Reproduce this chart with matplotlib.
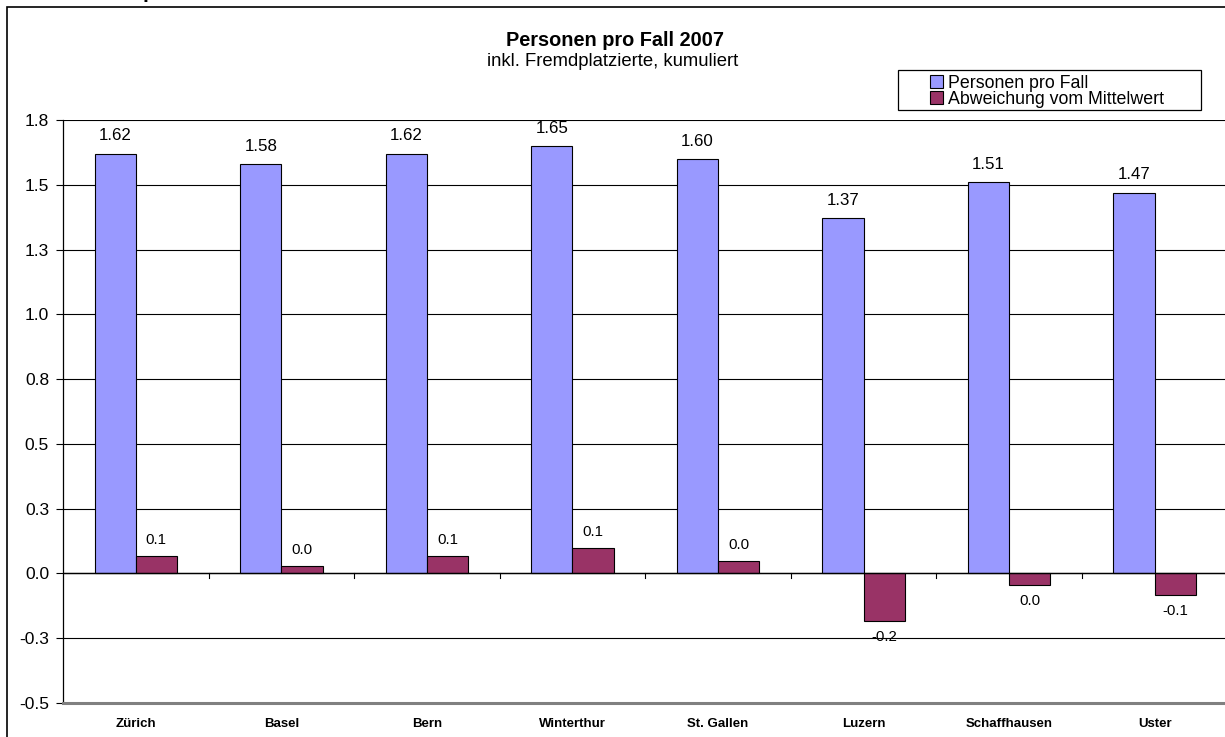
import matplotlib
matplotlib.use("Agg")
import matplotlib.pyplot as plt
from matplotlib.patches import Rectangle
import numpy as np

plt.rcParams['font.family'] = ['Liberation Sans', 'DejaVu Sans']

categories = ["Zürich", "Basel", "Bern", "Winterthur", "St. Gallen", "Luzern", "Schaffhausen", "Uster"]
personen = [1.62, 1.58, 1.62, 1.65, 1.60, 1.37, 1.51, 1.47]
abweichung = [0.067, 0.027, 0.067, 0.097, 0.047, -0.183, -0.043, -0.083]
yticks = [-0.5, -0.25, 0.0, 0.25, 0.5, 0.75, 1.0, 1.25, 1.5, 1.75]
ytick_labels = ["-0.5", "-0.3", "0.0", "0.3", "0.5", "0.8", "1.0", "1.3", "1.5", "1.8"]
series_names = ["Personen pro Fall", "Abweichung vom Mittelwert"]

W, H = 1225, 737
fig = plt.figure(figsize=(W / 100, H / 100), dpi=100)

def fx(px):
    return px / W

def fy(py):
    return 1 - py / H

# outer chart border
fig.patches.append(Rectangle((fx(7), -0.01), 1.02, fy(7) + 0.01, transform=fig.transFigure,
                             fill=False, edgecolor='black', linewidth=1.2))
# cut-off heading fragment above the chart
fig.text(fx(143), fy(-1.5), "p", ha='left', va='baseline', fontsize=15, fontweight='bold')

ax = fig.add_axes([fx(63), fy(703), (W - 63) / W + 0.002, (703 - 120) / H])
x = np.arange(len(categories))
bw = 0.283
ax.bar(x - bw / 2, personen, bw, color='#9999FF', edgecolor='black', linewidth=0.8,
       label=series_names[0], zorder=3)
ax.bar(x + bw / 2, abweichung, bw, color='#993366', edgecolor='black', linewidth=0.8,
       label=series_names[1], zorder=3)

ax.set_xlim(-0.5, len(categories) - 0.5)
ax.set_ylim(-0.5, 1.75)
ax.set_yticks(yticks)
ax.set_yticklabels(ytick_labels, fontsize=12.5)
for yv in yticks[1:]:
    ax.axhline(yv, color='black', linewidth=0.8, zorder=1)
ax.axhline(0, color='black', linewidth=1.0, zorder=4)

ax.set_xticks(x)
ax.set_xticklabels(categories, fontsize=9.5, fontweight='bold')
ax.tick_params(axis='x', length=0, pad=11)
ax.tick_params(axis='y', length=5, width=0.8, pad=5)
for b in np.arange(0.5, len(categories) - 0.5, 1.0):
    ax.plot([b, b], [0, -0.016], color='black', linewidth=0.8, zorder=4)

for s in ['top', 'right']:
    ax.spines[s].set_visible(False)
ax.spines['left'].set_linewidth(0.9)
ax.spines['bottom'].set_color('#808080')
ax.spines['bottom'].set_linewidth(2.2)

for xi, v in zip(x, personen):
    ax.text(xi - bw / 2, v + 0.04, f"{v:.2f}", ha='center', va='bottom', fontsize=12.2)
for xi, v in zip(x, abweichung):
    s = f"{v:.1f}"
    if s == "-0.0":
        s = "0.0"
    if v >= 0:
        ax.text(xi + bw / 2, v + 0.035, s, ha='center', va='bottom', fontsize=10.8)
    else:
        ax.text(xi + bw / 2, v - 0.035, s, ha='center', va='top', fontsize=10.8)

fig.text(fx(615), fy(40), "Personen pro Fall 2007", ha='center', va='center',
         fontsize=14.3, fontweight='bold')
fig.text(fx(613), fy(61), "inkl. Fremdplatzierte, kumuliert", ha='center', va='center',
         fontsize=13.3)

# legend
fig.patches.append(Rectangle((fx(898), fy(110)), fx(1201) - fx(898), fy(70) - fy(110),
                             transform=fig.transFigure, fill=False, edgecolor='black',
                             linewidth=0.9, zorder=10))
leg = fig.legend(loc='upper left', bbox_to_anchor=(fx(930), fy(75)),
                 frameon=False, fontsize=12.8,
                 handlelength=0.75, handleheight=0.75, handletextpad=0.25, borderpad=0.0,
                 labelspacing=-0.05, borderaxespad=0)
leg.set_zorder(10)
fig.savefig("out.png", dpi=100)
